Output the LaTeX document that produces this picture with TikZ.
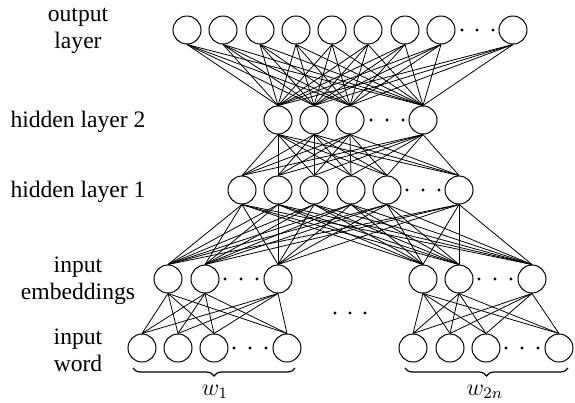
\documentclass[tikz,border=0pt]{standalone}
\usepackage{fontspec}
\setmainfont{Liberation Serif}
\usepackage{tikz}
\usetikzlibrary{calc}
\usetikzlibrary{positioning}
\usetikzlibrary{decorations.pathreplacing}

\tikzset{
  neuron/.style={circle, draw, line width=0.5pt, minimum size=14pt, inner sep=0pt},
  synapse/.style={line width=0.4pt},
  layerlabel/.style={align=center, inner sep=0pt, font=\fontsize{11.8}{13.5}\selectfont},
  wordbrace/.style={decorate, decoration={brace, mirror, amplitude=4pt}, line width=0.6pt},
}

\begin{document}
\begin{tikzpicture}[x=0.5pt, y=-0.5pt]
            % Frame to ensure alignment:
            \useasboundingbox (0,0) rectangle (575,403);
            % Layer labels
            \node[layerlabel] (lblout) at (78,31)  {output\\layer};
            \node[layerlabel] (lblhb)  at (78,122) {hidden layer 2};
            \node[layerlabel] (lblha)  at (78,192) {hidden layer 1};
            \node[layerlabel] (lblemb) at (78,281) {input\\embeddings};
            \node[layerlabel] (lblwrd) at (78,350) {input\\word};
            % Output layer
            \foreach \x [count=\i] in {187,223,260,296,332,368,405,441,513}
                \node[neuron] (o-\i) at (\x,30) {};
            % Hidden layer 2
            \foreach \x [count=\i] in {278,314,350,423}
                \node[neuron] (hb-\i) at (\x,120) {};
            % Hidden layer 1
            \foreach \x [count=\i] in {242,278,314,351,387,459}
                \node[neuron] (ha-\i) at (\x,190) {};
            % Input embeddings (two groups)
            \foreach \x [count=\i] in {168,205,278,423,459,532}
                \node[neuron] (e-\i) at (\x,279) {};
            % Input words (two groups)
            \foreach \x [count=\i] in {142,178,214,287,413,450,486,559}
                \node[neuron] (w-\i) at (\x,348) {};
            % Dots
            \foreach \x in {462,477,493} \fill (\x,30)  circle (0.8pt);
            \foreach \x in {371,387,403} \fill (\x,120) circle (0.8pt);
            \foreach \x in {407,423,439} \fill (\x,190) circle (0.8pt);
            \foreach \x in {225,241,257} \fill (\x,279) circle (0.8pt);
            \foreach \x in {479,495,511} \fill (\x,279) circle (0.8pt);
            \foreach \x in {234,250,266} \fill (\x,348) circle (0.8pt);
            \foreach \x in {506,522,538} \fill (\x,348) circle (0.8pt);
            \foreach \x in {335,350,365} \fill (\x,313) circle (0.8pt);
            % Connections
            \foreach \i in {1,...,9}
                \foreach \j in {1,...,4}
                    \draw[synapse] (o-\i.south) -- (hb-\j.north);
            \foreach \i in {1,...,4}
                \foreach \j in {1,...,6}
                    \draw[synapse] (hb-\i.south) -- (ha-\j.north);
            \foreach \i in {1,...,6}
                \foreach \j in {1,...,6}
                    \draw[synapse] (ha-\i.south) -- (e-\j.north);
            \foreach \i in {1,...,3}
                \foreach \j in {1,...,4}
                    \draw[synapse] (e-\i.south) -- (w-\j.north);
            \foreach \i in {4,...,6}
                \foreach \j in {5,...,8}
                    \draw[synapse] (e-\i.south) -- (w-\j.north);
            % Braces under the words
            \coordinate (bl-a) at (133,368);
            \coordinate (bl-b) at (295,368);
            \coordinate (br-a) at (405,368);
            \coordinate (br-b) at (568,368);
            \draw[wordbrace] (bl-a) -- (bl-b);
            \draw[wordbrace] (br-a) -- (br-b);
            \node[layerlabel] (lblw1) at (215,392) {$w_1$};
            \node[layerlabel] (lblw2) at (485,392) {$w_{2n}$};
        \end{tikzpicture}
\end{document}
